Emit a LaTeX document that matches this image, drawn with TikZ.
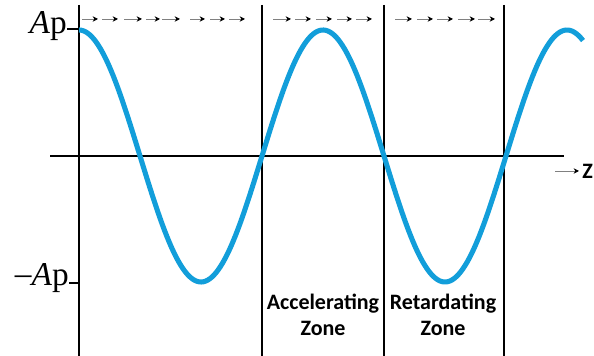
\documentclass[tikz,border=0pt]{standalone}
\usepackage{fontspec}
\newfontfamily\tnrfont{Liberation Serif}
\newfontfamily\calfont{Carlito}
\usetikzlibrary{arrows.meta}
\definecolor{wavecol}{RGB}{18,158,218}
\tikzset{
  axisline/.style={line width=1.6pt, black},
  zoneline/.style={line width=1.8pt, black},
  wave/.style={line width=3.8pt, wavecol},
  flowarrow/.style={line width=0.7pt, gray, -{Stealth[length=4pt,width=4pt,black]}},
  ampl/.style={font=\tnrfont\fontsize{25}{25}\selectfont, inner sep=0pt},
  zonetext/.style={font=\calfont\bfseries\fontsize{16.5}{19.5}\selectfont, align=center, inner sep=0pt},
}
\begin{document}
\begin{tikzpicture}[x=0.75pt,y=-0.75pt]
\useasboundingbox (0,0) rectangle (594,356);
% axes
\coordinate (ytop) at (79,5);
\coordinate (ybot) at (79,356);
\coordinate (xl) at (50,156);
\coordinate (xr) at (564,156);
\draw[axisline] (ytop) -- (ybot);
\draw[axisline] (xl) -- (xr);
% zone boundaries
\foreach \n/\xx in {a/262,b/384,c/504}{
  \coordinate (\n top) at (\xx,5);
  \coordinate (\n bot) at (\xx,356);
  \draw[zoneline] (\n top) -- (\n bot);
}
% wave
\draw[wave] plot[domain=0:504, samples=240, smooth] ({79+\x}, {156-126*cos(1.47541*\x)});
% ticks
\coordinate (t1a) at (67,29); \coordinate (t1b) at (79,29);
\coordinate (t2a) at (69,283); \coordinate (t2b) at (79,283);
\draw[line width=0.9pt] (t1a) -- (t1b);
\draw[line width=0.9pt] (t2a) -- (t2b);
% labels
\node[ampl, anchor=base east] (lap) at (67,34) {\textit{A}p};
\node[ampl, anchor=base east] (lam) at (69,286) {\raisebox{0.1ex}{\textendash}\textit{A}p};
% flow arrows
\foreach \s/\e [count=\i] in {82/98,102/118,124/142,146/160,162/180,190/205,210/225,229/245,
  273/291,295/311,316/332,337/352,356/372,
  395/412,417/433,437/453,458/475,478/495}{
  \coordinate (fa\i) at (\s,19);
  \coordinate (fb\i) at (\e,19);
  \draw[flowarrow] (fa\i) -- (fb\i);
}
% z arrow
\coordinate (za) at (555,171);
\coordinate (zb) at (579,171);
\draw[flowarrow] (za) -- (zb);
\node[zonetext, anchor=west] (zl) at (582,171) {Z};
% zone labels
\node[zonetext] (acc) at (323,315) {Accelerating\\Zone};
\node[zonetext] (ret) at (443,315) {Retardating\\Zone};
\end{tikzpicture}
\end{document}
